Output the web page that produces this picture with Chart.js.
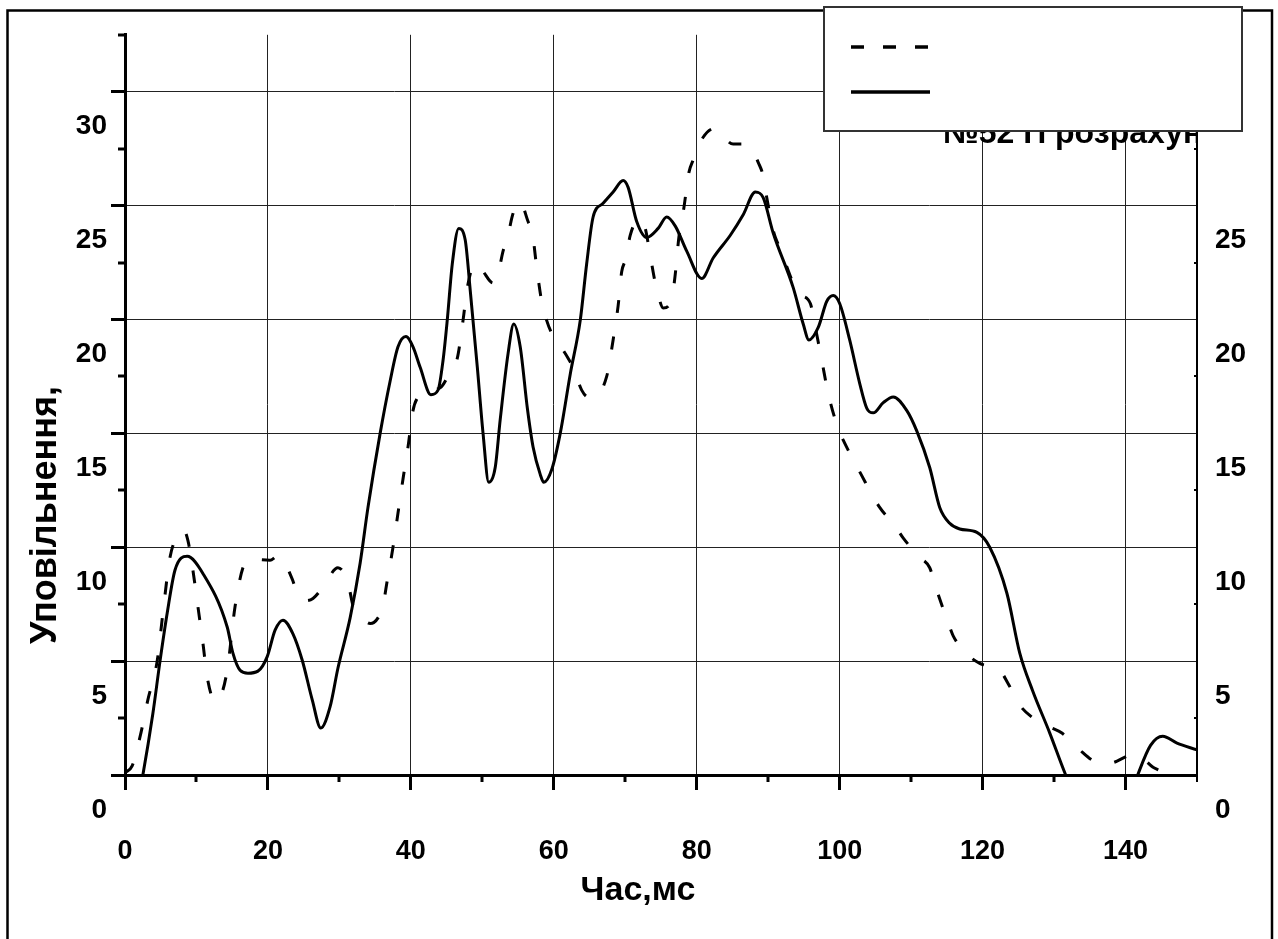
<!DOCTYPE html>
<html>
<head>
<meta charset="utf-8">
<script src="https://cdn.jsdelivr.net/npm/chart.js@4/dist/chart.umd.min.js"></script>
<style>
html,body{margin:0;padding:0;background:#fff;}
canvas{display:block;}
</style>
</head>
<body>
<canvas id="c" width="1278" height="939"></canvas>
<script>
// ---- data ----
const xTickValues = [0, 20, 40, 60, 80, 100, 120, 140];
const xMinorValues = [10, 30, 50, 70, 90, 110, 130, 150];
const yTickValues = [0, 5, 10, 15, 20, 25, 30];
const yRightTickValues = [0, 5, 10, 15, 20, 25];
const yMinorValues = [2.5, 7.5, 12.5, 17.5, 22.5, 27.5, 32.5];

const xAxisTitle = "Час,мс";
const yAxisTitle = "Уповільнення,";
const noteText = "№52 П розрахунок";
const seriesNames = ["Експеримент", "Розрахунок"];

// dashed series
const dashedX = [0, 1.0, 2.1, 3.2, 4.5, 5.3, 6.3, 7.7, 8.2, 8.8, 9.5, 10.2, 10.9, 11.5, 12.6, 13.3, 14.3, 15.4, 16.5, 17.5, 19.0, 20.3, 21.3, 22.0, 23.4, 24.1, 25.3, 26.3, 27.7, 29.8, 31.2, 31.9, 33.2, 34.3, 35.4, 36.1, 36.7, 37.5, 38.2, 38.9, 39.6, 40.3, 41.0, 42.7, 44.1, 45.8, 46.5, 47.3, 47.9, 49.0, 50.0, 51.5, 52.2, 52.9, 53.5, 54.2, 54.9, 55.3, 56.4, 57.0, 57.6, 58.3, 59.0, 59.7, 61.0, 62.0, 62.7, 63.9, 64.8, 65.5, 67.4, 68.3, 69.0, 69.5, 70.0, 70.7, 71.5, 72.3, 72.8, 73.5, 74.2, 74.7, 75.3, 76.5, 77.0, 77.5, 78.2, 78.9, 79.5, 80.9, 82.6, 83.8, 85.1, 86.8, 88.0, 88.6, 89.3, 89.8, 90.8, 91.4, 92.5, 93.5, 94.5, 95.9, 96.6, 97.5, 98.4, 99.8, 100.5, 103.0, 105.6, 107.7, 108.9, 111.2, 112.6, 113.6, 115.2, 115.9, 118.0, 119.6, 122.4, 123.6, 125.2, 126.9, 129.4, 131.1, 133.6, 135.3, 136.8, 138.1, 141.0, 142.5, 143.8, 145.2, 147.5, 150];
const dashedY = [0.1, 0.4, 1.67, 3.3, 5.0, 7.1, 9.56, 10.66, 10.75, 10.3, 9.0, 7.4, 5.8, 4.3, 3.25, 3.4, 4.6, 7.4, 9.1, 9.5, 9.45, 9.43, 9.6, 9.5, 8.6, 8.0, 7.65, 7.75, 8.25, 9.1, 8.45, 7.45, 6.9, 6.65, 6.9, 7.45, 8.55, 10.0, 11.5, 13.0, 14.4, 16.0, 16.6, 16.9, 17.0, 17.9, 18.3, 19.96, 21.4, 22.45, 22.15, 21.6, 22.0, 23.0, 23.55, 24.55, 25.1, 25.15, 24.3, 23.8, 22.3, 20.8, 19.96, 19.4, 18.8, 18.3, 17.9, 16.9, 16.6, 16.6, 17.5, 19.1, 20.6, 22.1, 22.6, 23.7, 24.3, 24.4, 24.0, 22.8, 21.6, 20.96, 20.5, 20.9, 22.0, 23.6, 24.9, 26.45, 27.0, 28.0, 28.4, 28.0, 27.7, 27.7, 27.3, 26.9, 26.3, 25.35, 23.8, 23.3, 22.4, 21.6, 21.1, 20.7, 19.65, 18.2, 16.75, 15.2, 14.7, 13.2, 11.75, 10.96, 10.4, 9.56, 9.1, 8.1, 6.67, 6.1, 5.26, 4.9, 4.6, 4.0, 3.07, 2.54, 2.1, 1.84, 1.1, 0.66, 0.5, 0.53, 0.88, 0.7, 0.35, 0.09, -1.0, -2.0];

// solid series
const solidX = [0, 2.5, 3.9, 4.9, 5.9, 7.0, 8.7, 10.9, 14.3, 15.1, 16.1, 17.2, 18.6, 19.9, 21.0, 22.1, 23.5, 24.8, 26.2, 27.4, 28.7, 29.8, 31.5, 32.9, 34.0, 35.7, 37.1, 38.2, 39.3, 40.3, 41.3, 42.8, 43.8, 44.5, 45.1, 45.8, 46.7, 47.6, 48.3, 49.3, 50.1, 50.9, 51.8, 52.5, 53.6, 54.4, 55.3, 56.3, 57.1, 58.1, 58.6, 59.7, 60.9, 62.3, 63.7, 64.6, 65.5, 66.9, 68.3, 69.7, 70.4, 71.6, 73.0, 74.6, 75.8, 77.0, 78.6, 80.7, 82.3, 84.7, 86.5, 88.2, 89.3, 90.7, 93.5, 94.9, 95.7, 97.0, 98.2, 99.1, 100.0, 101.4, 102.8, 103.8, 104.7, 106.1, 107.5, 109.4, 110.8, 112.6, 114.0, 115.4, 116.8, 119.2, 121.0, 123.4, 125.2, 127.0, 129.4, 131.5, 133.5, 137.0, 140.0, 141.7, 143.5, 145.2, 147.2, 150];
const solidY = [-4, 0, 2.7, 5.0, 7.1, 9.0, 9.6, 8.85, 6.5, 5.35, 4.6, 4.47, 4.56, 5.2, 6.36, 6.8, 6.2, 5.04, 3.3, 2.06, 3.0, 4.7, 6.9, 9.3, 11.75, 15.0, 17.3, 18.8, 19.25, 18.8, 17.9, 16.7, 16.9, 18.2, 20.0, 22.45, 24.0, 23.5, 21.3, 17.9, 15.0, 12.85, 13.5, 15.6, 18.5, 19.8, 18.8, 16.1, 14.4, 13.2, 12.85, 13.4, 15.0, 17.6, 19.96, 22.45, 24.5, 25.1, 25.6, 26.1, 25.8, 24.3, 23.6, 24.0, 24.5, 24.1, 23.0, 21.8, 22.7, 23.7, 24.6, 25.6, 25.35, 23.8, 21.4, 19.8, 19.1, 19.65, 20.8, 21.05, 20.7, 19.1, 17.2, 16.1, 15.9, 16.35, 16.6, 16.0, 15.1, 13.5, 11.75, 11.05, 10.8, 10.65, 10.0, 7.98, 5.35, 3.7, 1.84, 0.1, -1.3, -2.5, -1.5, 0.0, 1.3, 1.7, 1.4, 1.1];

const FONT = "'Liberation Sans', Arial, sans-serif";

const decorPlugin = {
  id: 'decor',
  beforeDraw(chart) {
    const ctx = chart.ctx;
    ctx.save();
    ctx.fillStyle = '#fff';
    ctx.fillRect(0, 0, chart.width, chart.height);
    ctx.restore();
  },
  afterDraw(chart) {
    const ctx = chart.ctx;
    const ca = chart.chartArea;
    const xs = chart.scales.x, ys = chart.scales.y;
    ctx.save();
    ctx.strokeStyle = '#000';
    ctx.lineCap = 'butt';
    // minor ticks on left axis
    ctx.lineWidth = 3;
    yMinorValues.forEach(v => {
      const py = Math.round(ys.getPixelForValue(v));
      ctx.beginPath(); ctx.moveTo(ca.left - 7, py); ctx.lineTo(ca.left, py); ctx.stroke();
    });
    // minor ticks on bottom axis
    xMinorValues.forEach(v => {
      const px = Math.round(xs.getPixelForValue(v));
      ctx.lineWidth = (v === 150) ? 2 : 3;
      ctx.beginPath(); ctx.moveTo(px, ca.bottom); ctx.lineTo(px, ca.bottom + 7); ctx.stroke();
    });
    // small inward ticks on right axis
    ctx.lineWidth = 2;
    yMinorValues.forEach(v => {
      const py = Math.round(ys.getPixelForValue(v));
      ctx.beginPath(); ctx.moveTo(ca.right - 3, py); ctx.lineTo(ca.right, py); ctx.stroke();
    });

    // axis titles
    ctx.fillStyle = '#000';
    ctx.font = 'bold 34px ' + FONT;
    ctx.textAlign = 'center';
    ctx.textBaseline = 'alphabetic';
    ctx.fillText(xAxisTitle, 638, 900);

    ctx.save();
    ctx.translate(56, 515);
    ctx.rotate(-Math.PI / 2);
    ctx.font = 'bold 36px ' + FONT;
    ctx.textAlign = 'center';
    ctx.fillText(yAxisTitle, 0, 0);
    ctx.restore();

    // note text partly hidden by legend box, clipped to plot area
    ctx.save();
    ctx.beginPath();
    ctx.rect(ca.left, ca.top, ca.right - ca.left, ca.bottom - ca.top);
    ctx.clip();
    ctx.font = 'bold 32px ' + FONT;
    ctx.textAlign = 'left';
    ctx.fillText(noteText, 943, 143);
    ctx.restore();

    // outer frame
    ctx.lineWidth = 2.5;
    ctx.strokeStyle = '#000';
    ctx.strokeRect(7.5, 10.5, 1264.5, 960);

    // legend box
    ctx.fillStyle = '#fff';
    ctx.fillRect(824, 7, 418, 124);
    ctx.lineWidth = 2;
    ctx.strokeStyle = '#333';
    ctx.strokeRect(824, 7, 418, 124);
    ctx.strokeStyle = '#000';
    ctx.lineWidth = 3.5;
    ctx.setLineDash([13, 19]);
    ctx.beginPath(); ctx.moveTo(851, 47); ctx.lineTo(930, 47); ctx.stroke();
    ctx.setLineDash([]);
    ctx.beginPath(); ctx.moveTo(851, 92); ctx.lineTo(930, 92); ctx.stroke();
    ctx.restore();
  }
};

const toPoints = (xa, ya) => xa.map((x, i) => ({ x: x, y: ya[i] }));

new Chart(document.getElementById('c'), {
  type: 'line',
  data: {
    datasets: [
      {
        label: seriesNames[0],
        data: toPoints(dashedX, dashedY),
        borderColor: '#000',
        borderWidth: 3,
        borderDash: [13, 24],
        pointRadius: 0,
        cubicInterpolationMode: 'monotone',
        fill: false,
        yAxisID: 'y'
      },
      {
        label: seriesNames[1],
        data: toPoints(solidX, solidY),
        borderColor: '#000',
        borderWidth: 3,
        pointRadius: 0,
        cubicInterpolationMode: 'monotone',
        fill: false,
        yAxisID: 'y'
      }
    ]
  },
  options: {
    responsive: false,
    devicePixelRatio: 1,
    animation: false,
    layout: { padding: { top: 34, left: 0, right: 0, bottom: 0 } },
    plugins: { legend: { display: false }, tooltip: { enabled: false } },
    scales: {
      x: {
        type: 'linear',
        min: 0, max: 150,
        afterBuildTicks: s => { s.ticks = xTickValues.map(v => ({ value: v })); },
        afterFit: s => { s.height = 164; },
        grid: { color: '#222', lineWidth: 1, tickLength: 15, tickWidth: 3, tickColor: '#000' },
        border: { display: true, color: '#000', width: 3 },
        ticks: { color: '#000', font: { family: FONT, size: 27, weight: 'bold' }, padding: 45, maxRotation: 0 }
      },
      y: {
        type: 'linear',
        position: 'left',
        min: 0, max: 32.5,
        afterBuildTicks: s => { s.ticks = yTickValues.map(v => ({ value: v })); },
        afterFit: s => { s.width = 125; },
        grid: { color: '#222', lineWidth: 1, tickLength: 14, tickWidth: 3, tickColor: '#000' },
        border: { display: true, color: '#000', width: 3 },
        ticks: { color: '#000', font: { family: FONT, size: 28, weight: 'bold' }, padding: 4, labelOffset: 35 }
      },
      y2: {
        type: 'linear',
        position: 'right',
        min: 0, max: 32.5,
        afterBuildTicks: s => { s.ticks = yRightTickValues.map(v => ({ value: v })); },
        afterFit: s => { s.width = 81; },
        grid: { display: false, drawTicks: false },
        border: { display: true, color: '#000', width: 2 },
        ticks: { color: '#000', font: { family: FONT, size: 28, weight: 'bold' }, padding: 18, labelOffset: 35 }
      }
    }
  },
  plugins: [decorPlugin]
});
</script>
</body>
</html>
